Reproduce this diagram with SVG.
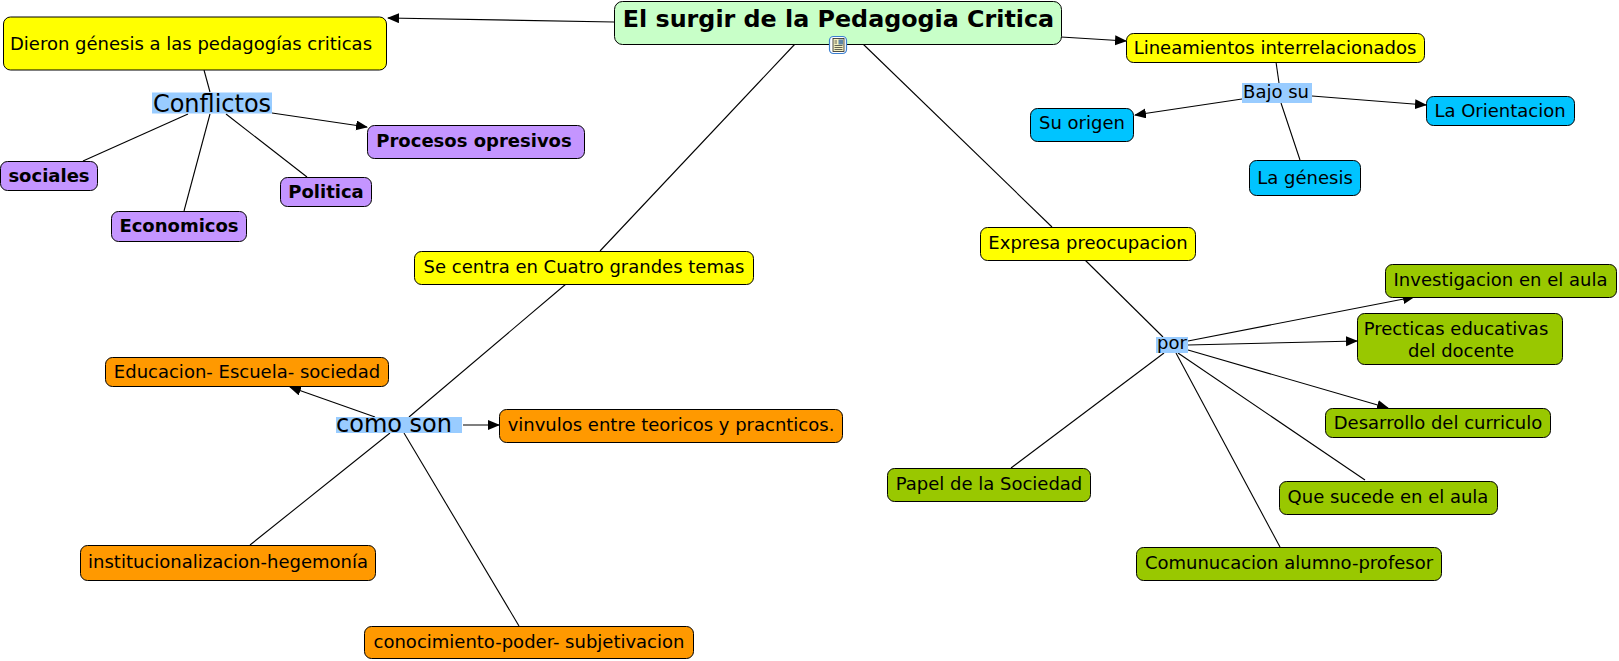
<svg xmlns="http://www.w3.org/2000/svg" width="1619" height="661" viewBox="0 0 1619 661">
<style>
text{font-family:"DejaVu Sans",Verdana,sans-serif;font-size:18px;fill:#000;text-anchor:middle}
.n{stroke:#000;stroke-width:1}
.y{fill:#ffff00}.p{fill:#c495ff}.b{fill:#00c4ff}.g{fill:#99c800}.o{fill:#ff9900}.r{fill:#c8ffc8}.l{fill:#99ccff}
.bold{font-weight:bold}
#connectors line{stroke:#000;stroke-width:1.1}
.a{marker-end:url(#arrow)}
</style>
<defs><marker id="arrow" markerUnits="userSpaceOnUse" markerWidth="12" markerHeight="12" refX="11" refY="5" orient="auto"><path d="M0 0L12 5L0 10Z" fill="#000"/></marker></defs>
<rect width="1619" height="661" fill="#fff"/>
<g id="connectors">
<line class="a" x1="614" y1="22" x2="388" y2="18"/>
<line class="a" x1="1061" y1="37" x2="1126" y2="41"/>
<line x1="795" y1="44" x2="600" y2="251"/>
<line x1="566" y1="284" x2="409" y2="417"/>
<line x1="390" y1="433" x2="250" y2="545"/>
<line x1="404" y1="433" x2="519" y2="626"/>
<line class="a" x1="375" y1="417" x2="290" y2="387"/>
<line class="a" x1="463" y1="425" x2="499" y2="425"/>
<line x1="863" y1="44" x2="1052" y2="227"/>
<line x1="1085" y1="260" x2="1163" y2="337"/>
<line class="a" x1="1188" y1="341" x2="1414" y2="297"/>
<line class="a" x1="1188" y1="345" x2="1357" y2="341"/>
<line class="a" x1="1188" y1="350" x2="1388" y2="408"/>
<line x1="1178" y1="353" x2="1365" y2="480"/>
<line x1="1176" y1="353" x2="1280" y2="547"/>
<line x1="1164" y1="353" x2="1011" y2="468"/>
<line x1="1276" y1="62" x2="1279" y2="83"/>
<line x1="1281" y1="103" x2="1300" y2="160"/>
<line class="a" x1="1242" y1="99" x2="1135" y2="115"/>
<line class="a" x1="1312" y1="96" x2="1426" y2="105"/>
<line x1="204" y1="70" x2="210" y2="92"/>
<line class="a" x1="272" y1="113" x2="367" y2="127"/>
<line x1="188" y1="114" x2="83" y2="161"/>
<line x1="210" y1="114" x2="184" y2="211"/>
<line x1="226" y1="114" x2="307" y2="177"/>
</g>
<g id="root"><rect class="n r" x="614.5" y="1.5" width="447" height="43" rx="8"/><text class="bold" x="838.5" y="27" style="font-size:23.8px">El surgir de la Pedagogia Critica</text>
<g id="root-icon"><rect x="829.5" y="36.5" width="17" height="17" rx="4" fill="#fff" stroke="#3a7fd0" stroke-width="1.2"/><rect x="833" y="38.5" width="11" height="13" fill="#f4f0c0" stroke="#222" stroke-width=".8"/><rect x="838.5" y="39.5" width="4.5" height="5" fill="#5f86a8"/><path d="M834.5 41H837M834.5 43H837M834.5 45.5H842.5M834.5 47.5H842.5M834.5 49.5H842.5" stroke="#222" stroke-width=".7"/></g></g>
<g id="dieron"><rect class="n y" x="3.5" y="17" width="383" height="53" rx="7"/><text x="191" y="50">Dieron génesis a las pedagogías criticas</text></g>
<g id="conflictos"><rect class="l" x="152" y="92.5" width="120" height="21"/><text x="212" y="112" style="font-size:24px">Conflictos</text></g>
<g id="procesos"><rect class="n p" x="367.5" y="125.5" width="217" height="33" rx="7"/><text class="bold" x="474" y="147">Procesos opresivos</text></g>
<g id="sociales"><rect class="n p" x="0.5" y="161.5" width="97" height="29" rx="7"/><text class="bold" x="49" y="182">sociales</text></g>
<g id="economicos"><rect class="n p" x="111.5" y="211.5" width="135" height="30" rx="7"/><text class="bold" x="179" y="232">Economicos</text></g>
<g id="politica"><rect class="n p" x="280.5" y="177.5" width="91" height="29" rx="7"/><text class="bold" x="326" y="198">Politica</text></g>
<g id="secentra"><rect class="n y" x="414.5" y="251.5" width="339" height="33" rx="7"/><text x="584" y="273">Se centra en Cuatro grandes temas</text></g>
<g id="educacion"><rect class="n o" x="105.5" y="357.5" width="283" height="29" rx="7"/><text x="247" y="378">Educacion- Escuela- sociedad</text></g>
<g id="comoson"><rect class="l" x="336" y="417" width="126" height="16"/><text x="394" y="432" style="font-size:24px">como son</text></g>
<g id="vinvulos"><rect class="n o" x="499.5" y="409.5" width="343" height="33" rx="7"/><text x="671" y="431">vinvulos entre teoricos y pracnticos.</text></g>
<g id="institucional"><rect class="n o" x="80.5" y="545.5" width="295" height="35" rx="7"/><text x="228" y="568">institucionalizacion-hegemonía</text></g>
<g id="conocimiento"><rect class="n o" x="364.5" y="626.5" width="329" height="32" rx="7"/><text x="529" y="648">conocimiento-poder- subjetivacion</text></g>
<g id="lineamientos"><rect class="n y" x="1126.5" y="33.5" width="298" height="29" rx="7"/><text x="1275" y="54">Lineamientos interrelacionados</text></g>
<g id="bajosu"><rect class="l" x="1242" y="83" width="70" height="20"/><text x="1276" y="98">Bajo su</text></g>
<g id="suorigen"><rect class="n b" x="1030.5" y="108.5" width="103" height="33" rx="7"/><text x="1082" y="129">Su origen</text></g>
<g id="orientacion"><rect class="n b" x="1426.5" y="96.5" width="148" height="29" rx="7"/><text x="1500" y="117">La Orientacion</text></g>
<g id="genesis"><rect class="n b" x="1249.5" y="160.5" width="111" height="35" rx="7"/><text x="1305" y="184">La génesis</text></g>
<g id="expresa"><rect class="n y" x="980.5" y="227.5" width="215" height="33" rx="7"/><text x="1088" y="249">Expresa preocupacion</text></g>
<g id="por"><rect class="l" x="1156" y="337" width="32" height="16"/><text x="1172" y="349">por</text></g>
<g id="investigacion"><rect class="n g" x="1385.5" y="264.5" width="231" height="33" rx="7"/><text x="1500.5" y="286">Investigacion en el aula</text></g>
<g id="precticas"><rect class="n g" x="1357.5" y="313.5" width="205" height="51" rx="7"/><text x="1456" y="335">Precticas educativas</text><text x="1461" y="357">del docente</text></g>
<g id="desarrollo"><rect class="n g" x="1325.5" y="408.5" width="225" height="29" rx="7"/><text x="1438" y="429">Desarrollo del curriculo</text></g>
<g id="quesucede"><rect class="n g" x="1279.5" y="481.5" width="218" height="33" rx="7"/><text x="1388" y="503">Que sucede en el aula</text></g>
<g id="comunicacion"><rect class="n g" x="1136.5" y="547.5" width="305" height="33" rx="7"/><text x="1289" y="569">Comunucacion alumno-profesor</text></g>
<g id="papel"><rect class="n g" x="887.5" y="468.5" width="203" height="33" rx="7"/><text x="989" y="490">Papel de la Sociedad</text></g>
</svg>
